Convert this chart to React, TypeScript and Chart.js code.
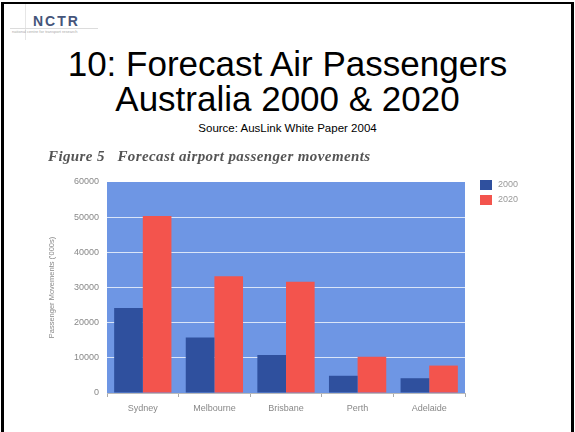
import React, { useEffect, useRef } from "react";
import { Chart, registerables } from "chart.js";

Chart.register(...registerables);

const categories = ["Sydney", "Melbourne", "Brisbane", "Perth", "Adelaide"];
const seriesLabels = ["2000", "2020"];
const values2000 = [24200, 15800, 10800, 4900, 4200];
const values2020 = [50300, 33200, 31600, 10300, 7800];
const yTicks = [0, 10000, 20000, 30000, 40000, 50000, 60000];

const PLOT_BG = "#6e96e4";
const DARK = "#2f509e";
const RED = "#f3544d";
const FONT = "'Liberation Sans', Arial, sans-serif";

const bgPlugin = {
  id: "plotBg",
  beforeDraw(chart: any) {
    const { ctx, chartArea } = chart;
    ctx.save();
    ctx.fillStyle = PLOT_BG;
    ctx.fillRect(chartArea.left, chartArea.top, chartArea.right - chartArea.left, chartArea.bottom - chartArea.top);
    ctx.restore();
  },
};

const legendPlugin = {
  id: "customLegend",
  afterDraw(chart: any) {
    const { ctx, chartArea } = chart;
    ctx.save();
    chart.data.datasets.forEach((ds: any, i: number) => {
      const x = chartArea.right + 15;
      const y = chartArea.top - 2 + i * 15;
      ctx.fillStyle = ds.backgroundColor;
      ctx.fillRect(x, y, 12, 10);
      ctx.fillStyle = "#999";
      ctx.font = "9px " + FONT;
      ctx.textBaseline = "middle";
      ctx.textAlign = "left";
      ctx.fillText(ds.label, x + 18, y + 5);
    });
    ctx.restore();
  },
};

function BarChart() {
  const ref = useRef<HTMLCanvasElement | null>(null);
  useEffect(() => {
    if (!ref.current) return;
    const chart = new Chart(ref.current, {
      type: "bar",
      data: {
        labels: categories,
        datasets: [
          { label: seriesLabels[0], data: values2000, backgroundColor: DARK, borderWidth: 0 },
          { label: seriesLabels[1], data: values2020, backgroundColor: RED, borderWidth: 0 },
        ],
      },
      options: {
        responsive: false,
        animation: false,
        maintainAspectRatio: false,
        layout: { padding: { left: 47, top: 182, right: 110, bottom: 13 } },
        datasets: { bar: { categoryPercentage: 0.8, barPercentage: 1 } },
        plugins: { legend: { display: false }, tooltip: { enabled: false }, title: { display: false } },
        scales: {
          x: {
            grid: { display: true, drawOnChartArea: false, drawTicks: true, tickLength: 4, color: "#aaa", offset: true },
            border: { display: true, color: "#bbb" },
            ticks: { color: "#888", font: { size: 9, family: FONT }, padding: 6 },
            afterFit(scale: any) {
              scale.height = 26;
            },
          },
          y: {
            min: 0,
            max: 60000,
            afterBuildTicks(scale: any) {
              scale.ticks = yTicks.map((v) => ({ value: v }));
            },
            grid: {
              drawTicks: false,
              color: (c: any) => (c.tick && (c.tick.value === 0 || c.tick.value === 60000) ? "rgba(0,0,0,0)" : "rgba(255,255,255,0.75)"),
            },
            border: { display: false },
            ticks: { color: "#888", font: { size: 9, family: FONT }, padding: 8, callback: (v: any) => String(v) },
            title: {
              display: true,
              text: "Passenger Movements ('000s)",
              color: "#888",
              font: { size: 7.5, family: FONT },
              padding: { top: 0, bottom: 0 },
            },
            afterFit(scale: any) {
              scale.width = 60;
            },
          },
        },
      },
      plugins: [bgPlugin, legendPlugin],
    });
    return () => chart.destroy();
  }, []);
  return <canvas ref={ref} width={575} height={432} style={{ position: "absolute", left: 0, top: 0, width: 575, height: 432 }} />;
}

export default function App() {
  return (
    <div style={{ position: "fixed", left: 0, top: 0, width: 575, height: 432, overflow: "hidden", background: "#fff", fontFamily: FONT }}>
      <div style={{ position: "absolute", left: 0, top: 2, width: 567, height: 500, borderLeft: "3px solid #000", borderRight: "3px solid #000", borderTop: "2px solid #000", marginLeft: 1 }} />
      <div style={{ position: "absolute", left: 25, top: 4, width: 1, height: 36, background: "#e6e6e6" }} />
      <div style={{ position: "absolute", left: 10, top: 28, width: 88, height: 1, background: "#dcdcdc" }} />
      <div style={{ position: "absolute", left: 33, top: 14, fontSize: 14, fontWeight: "bold", letterSpacing: 2, color: "#45557a", lineHeight: "14px" }}>NCTR</div>
      <div style={{ position: "absolute", left: 12, top: 29, fontSize: 4, color: "#aaa", lineHeight: "5px", whiteSpace: "nowrap" }}>national centre for transport research</div>
      <div style={{ position: "absolute", left: 0, top: 46, width: 575, textAlign: "center", fontSize: 35, lineHeight: "35px", color: "#000" }}>
        10: Forecast Air Passengers
        <br />
        Australia 2000 &amp; 2020
      </div>
      <div style={{ position: "absolute", left: 0, top: 122, width: 575, textAlign: "center", fontSize: 11.5, lineHeight: "12px", color: "#000" }}>
        Source: AusLink White Paper 2004
      </div>
      <div style={{ position: "absolute", left: 48, top: 148, fontFamily: "'Liberation Serif', 'DejaVu Serif', serif", fontStyle: "italic", fontWeight: "bold", fontSize: 15, letterSpacing: 0.4, lineHeight: "16px", color: "#555", filter: "blur(0.5px)", whiteSpace: "nowrap" }}>
        Figure 5&nbsp;&nbsp; Forecast airport passenger movements
      </div>
      <BarChart />
    </div>
  );
}
